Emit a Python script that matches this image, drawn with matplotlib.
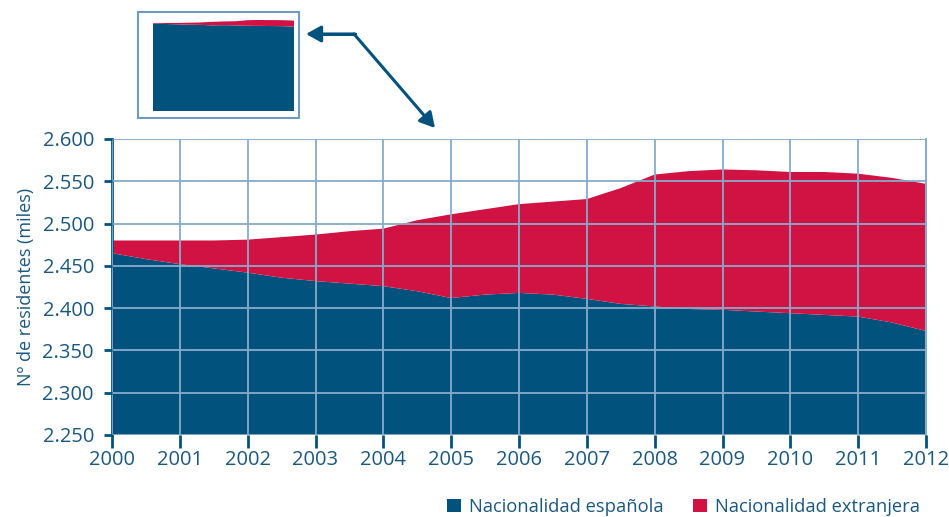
import matplotlib.pyplot as plt
from matplotlib.patches import Rectangle, FancyArrowPatch
from matplotlib.lines import Line2D
from matplotlib.ticker import FuncFormatter

plt.rcParams['font.family'] = ['Open Sans', 'DejaVu Sans']

# Data (thousands of residents), read at half-year steps
years = [2000, 2000.5, 2001, 2001.5, 2002, 2002.5, 2003, 2003.5, 2004, 2004.5,
         2005, 2005.5, 2006, 2006.5, 2007, 2007.5, 2008, 2008.5, 2009, 2009.5,
         2010, 2010.5, 2011, 2011.5, 2012]
spanish = [2465, 2458, 2452, 2447, 2442, 2436, 2432, 2429, 2426, 2420,
           2412, 2416, 2418, 2416, 2411, 2405, 2402, 2399, 2398, 2396,
           2394, 2392, 2390, 2383, 2373]
foreign = [15, 22, 28, 33, 39, 48, 55, 62, 68, 84,
           99, 101, 105, 110, 118, 137, 156, 163, 166, 167,
           167, 169, 169, 171, 174]
labels = ['Nacionalidad española', 'Nacionalidad extranjera']

BLUE = '#01537e'
RED = '#d11344'
GRID = '#86abcb'
TEXT = '#1b5880'

W, H = 949, 517
fig = plt.figure(figsize=(W / 100, H / 100), dpi=100)


def fx(px):
    return px / W


def fy(py):
    return 1 - py / H


# Main chart
ax = fig.add_axes([fx(112), fy(435), fx(926) - fx(112), fy(139) - fy(435)])
ax.stackplot(years, spanish, foreign, colors=[BLUE, RED], labels=labels,
             linewidth=0)
ax.set_xlim(2000, 2012)
ax.set_ylim(2250, 2600)
ax.set_xticks(range(2000, 2013))
ax.set_yticks(range(2250, 2601, 50))
ax.yaxis.set_major_formatter(FuncFormatter(lambda v, p: f'{v:,.0f}'.replace(',', '.')))
ax.set_axisbelow(False)
ax.grid(True, color=GRID, linewidth=1.3)
for s in ['top', 'bottom']:
    ax.spines[s].set_visible(False)
ax.spines['right'].set_color(GRID)
ax.spines['right'].set_linewidth(1.5)
ax.spines['left'].set_color(BLUE)
ax.spines['left'].set_linewidth(2)
ax.tick_params(axis='x', colors=BLUE, length=9, width=2, labelsize=14.5,
               labelcolor=TEXT, pad=2)
ax.tick_params(axis='y', colors=BLUE, length=6, width=2, labelsize=14.5,
               labelcolor=TEXT, pad=7)
ax.set_ylabel('Nº de residentes (miles)', color=TEXT, fontsize=13, labelpad=5)

# Legend
leg = fig.legend(loc='center left', bbox_to_anchor=(fx(447), fy(507)), ncol=2,
                 frameon=False, fontsize=13.2, handlelength=0.75,
                 handleheight=0.75, handletextpad=0.45, columnspacing=1.6,
                 labelcolor=TEXT, borderpad=0, borderaxespad=0)

# Inset overview
box = Rectangle((fx(138), fy(118)), fx(299) - fx(138), fy(12) - fy(118),
                transform=fig.transFigure, fill=False, edgecolor='#6e9bc4',
                linewidth=1.5)
fig.add_artist(box)
ins = fig.add_axes([fx(153), fy(111), fx(294) - fx(153), fy(18) - fy(111)])
ins.stackplot(years, spanish, foreign, colors=[BLUE, RED], linewidth=0)
ins.set_xlim(2000, 2012)
ins.set_ylim(0, 2620)
ins.axis('off')

# Arrow from inset to main chart
fig.add_artist(Line2D([fx(318), fx(355)], [fy(34), fy(34)],
                      transform=fig.transFigure, color=BLUE, linewidth=2.2))
fig.add_artist(FancyArrowPatch((fx(355), fy(34)), (fx(306), fy(34)),
                               transform=fig.transFigure, color=BLUE,
                               arrowstyle='-|>,head_length=9,head_width=5',
                               linewidth=2.2, shrinkA=0, shrinkB=0))
fig.add_artist(FancyArrowPatch((fx(354), fy(34)), (fx(435), fy(128)),
                               transform=fig.transFigure, color=BLUE,
                               arrowstyle='-|>,head_length=9,head_width=5',
                               linewidth=2.2, shrinkA=0, shrinkB=0))

plt.savefig('out.png', dpi=100)
